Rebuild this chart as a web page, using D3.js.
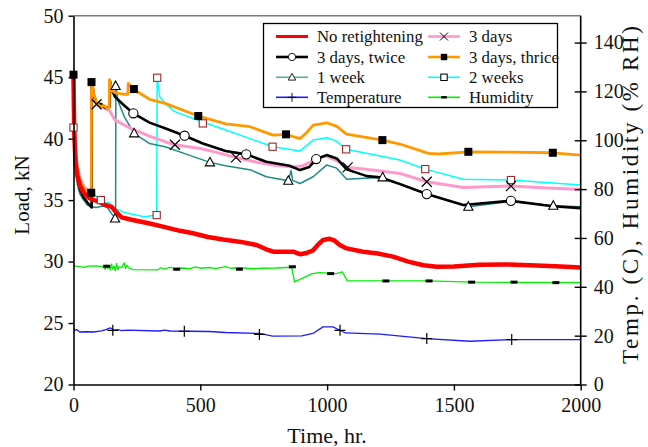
<!DOCTYPE html>
<html>
<head>
<meta charset="utf-8">
<script src="https://cdn.jsdelivr.net/npm/d3@7"></script>
<style>
  html, body { margin: 0; padding: 0; background: #fff; }
  svg { display: block; }
  text { font-family: "Liberation Serif", "Times New Roman", serif; fill: #111; }
</style>
</head>
<body>
<svg id="chart" width="648" height="447"></svg>
<script>
// ---- Load histories [time (hr), load (kN)] ----
const noRetightening = [
  [0,45.0],[3,40.5],[8,38.0],[15,37.0],[25,36.2],[40,35.6],[60,35.2],[80,35.0],[100,34.9],
  [124,34.6],[150,34.45],[165,34.1],[190,33.6],[229,33.4],[300,33.1],[361,32.8],[420,32.5],
  [471,32.3],[530,32.0],[590,31.8],[660,31.6],[722,31.35],[760,31.0],[787,30.8],[840,30.8],
  [866,30.8],[893,30.6],[920,30.7],[944,30.9],[965,31.4],[984,31.75],[1010,31.85],[1030,31.7],
  [1050,31.35],[1077,31.07],[1142,30.8],[1200,30.65],[1260,30.4],[1320,30.0],[1380,29.7],
  [1432,29.57],[1500,29.6],[1600,29.75],[1700,29.77],[1800,29.7],[1900,29.62],[2000,29.52]
];
const threeDays = [
  [0,45.0],[3,41.2],[8,39.0],[15,37.8],[25,36.8],[40,36.1],[55,35.8],[71,35.6],[72,44.8],
  [80,43.6],[91,42.8],[110,42.6],[130,42.4],[141,42.3],[164,41.5],[229,40.8],[300,40.2],
  [361,39.75],[400,39.5],[500,39.2],[560,38.9],[641,38.47],[720,38.1],[787,37.85],[866,37.7],
  [905,37.8],[935,38.1],[959,38.4],[998,38.58],[1038,38.2],[1081,37.66],[1157,37.5],[1209,37.36],
  [1287,37.17],[1393,36.49],[1537,36.03],[1725,36.14],[1850,36.0],[2000,35.87]
];
const threeDaysTwice = [
  [0,45.2],[3,40.6],[8,38.2],[15,36.9],[25,35.9],[40,35.2],[55,34.8],[71.5,34.4],[72,44.7],
  [80,43.5],[90,42.9],[110,42.8],[125,42.5],[143,42.6],[144,44.7],[150,44.0],[164,43.4],
  [200,42.7],[236,42.06],[300,41.3],[361,40.84],[438,40.24],[510,39.6],[600,39.0],[681,38.72],
  [760,38.12],[852,37.8],[893,37.44],[930,37.7],[957,38.34],[998,38.66],[1038,38.39],[1077,37.5],
  [1157,36.95],[1209,36.85],[1287,36.3],[1393,35.49],[1537,34.6],[1725,34.94],[1890,34.5],[2000,34.35]
];
const oneWeek = [
  [0,45.0],[3,40.0],[8,37.5],[15,36.3],[25,35.5],[40,35.0],[55,34.6],[72,34.45],[90,34.4],
  [110,34.5],[130,34.5],[150,33.9],[166,33.5],[167,44.4],[175,43.1],[200,41.8],[239,40.43],
  [300,39.6],[361,39.34],[450,38.7],[538,38.07],[600,37.8],[700,37.44],[760,36.9],[847,36.57],
  [858,37.4],[864,36.6],[893,36.35],[945,36.9],[998,37.85],[1038,37.6],[1077,36.69],[1219,36.85],
  [1287,36.35],[1393,35.5],[1557,34.46],[1725,34.9],[1892,34.54],[2000,34.45]
];
const threeDaysThrice = [
  [0,45.2],[3,41.5],[8,39.0],[15,37.6],[25,36.6],[40,36.0],[55,35.7],[70,35.6],[71,44.7],
  [80,43.6],[90,43.0],[105,42.6],[120,42.7],[135,42.4],[141,42.6],[142,44.8],[150,43.9],
  [170,43.7],[200,43.6],[214,43.6],[216,44.5],[238,44.0],[300,43.2],[361,42.87],[492,41.84],
  [600,41.2],[696,40.97],[787,40.29],[838,40.35],[893,40.0],[920,40.5],[945,41.1],[998,41.29],
  [1038,41.0],[1077,40.37],[1218,39.88],[1287,39.56],[1400,38.8],[1440,38.75],[1557,38.93],
  [1700,38.9],[1890,38.85],[2000,38.66]
];
const twoWeeks = [
  [0,40.9],[5,38.5],[12,37.3],[25,36.5],[45,36.0],[72,35.68],[95,35.2],[108,35.0],[124,34.73],
  [140,34.8],[164,34.32],[200,34.0],[280,33.64],[328,33.78],[330,44.95],[340,43.4],[361,42.87],
  [400,42.2],[510,41.35],[600,40.7],[696,40.0],[787,39.34],[893,38.99],[945,39.88],[998,40.07],
  [1038,39.8],[1075,39.13],[1209,38.58],[1287,38.26],[1387,37.52],[1537,36.69],[1725,36.63],[2000,36.22]
];

// ---- Ambient conditions [time (hr), value on right axis] ----
const temperature = [
  [0,22.9],[6,22.2],[12,22.5],[25,21.5],[50,21.6],[80,21.5],[110,22.0],[130,22.6],[145,23.2],
  [160,22.3],[175,22.5],[190,22.1],[210,22.3],[340,21.9],[360,22.3],[380,21.9],[536,21.7],
  [600,21.3],[734,20.9],[785,19.8],[900,19.9],[944,20.9],[984,23.6],[1023,23.6],[1051,22.2],
  [1072,21.1],[1209,20.6],[1393,18.8],[1562,17.7],[1727,18.4],[2000,18.4]
];
const humidity = [
  [0,48.6],[20,48.4],[40,48.0],[60,48.5],[90,48.6],[117,48.2],[125,47.2],[130,49.0],[135,47.5],
  [140,48.8],[145,46.8],[150,49.3],[155,47.3],[160,48.5],[165,46.5],[170,49.6],[175,47.0],
  [180,48.2],[190,47.8],[200,49.8],[205,47.5],[210,48.8],[220,47.6],[235,47.0],[330,46.9],
  [345,47.8],[360,47.2],[380,48.0],[400,47.5],[430,47.7],[460,47.4],[480,48.2],[500,47.6],
  [540,47.9],[560,47.4],[600,48.3],[620,47.6],[660,47.8],[700,47.4],[740,47.6],[800,47.7],
  [860,48.0],[872,42.0],[942,45.4],[970,45.8],[1036,45.4],[1060,46.1],[1080,42.4],[1400,42.4],
  [1570,41.9],[2000,41.7]
];

// ---- Marker positions ----
const threeDaysMarks = [[91,42.8],[400,39.5],[641,38.47],[1081,37.66],[1393,36.49],[1725,36.14]];
const twiceMarks = [[236,42.06],[438,40.24],[681,38.72],[957,38.34],[1393,35.49],[1725,34.94]];
const thriceMarks = [[0,45.2],[70,35.6],[71,44.6],[238,44.03],[492,41.84],[838,40.35],[1218,39.88],[1557,38.93],[1890,38.85]];
const twoWeeksMarks = [[0,40.9],[108,35.0],[328,33.78],[330,44.95],[510,41.24],[785,39.34],[1075,39.13],[1387,37.52],[1725,36.63]];
const oneWeekMarks = [[164,33.5],[166,44.28],[239,40.43],[538,38.07],[847,36.57],[1219,36.85],[1557,34.46],[1892,34.54]];
const temperatureMarks = [[155,22.2],[437,21.8],[733,20.5],[1051,22.2],[1393,18.8],[1728,18.4]];
const humidityMarks = [[131,48.4],[407,47.2],[654,47.2],[863,48.2],[1014,45.4],[1232,42.4],[1402,42.4],[1570,41.9],[1737,41.9],[1902,41.7]];

// ---- Axis ticks ----
const timeTicks = [0, 500, 1000, 1500, 2000];
const loadTicks = [20, 25, 30, 35, 40, 45, 50];
const rightTicks = [0, 20, 40, 60, 80, 100, 120, 140];

const svg = d3.select("#chart");
const plotLeft = 73.5, plotRight = 580.7, plotTop = 15.7, plotBottom = 384.5;

const x = d3.scaleLinear().domain([0, 2000]).range([plotLeft, plotRight]);
const yL = d3.scaleLinear().domain([20, 50]).range([plotBottom, plotTop]);
const yR = d3.scaleLinear().domain([0, 151]).range([plotBottom, plotTop]);

const colors = {
  red: "#ff0000", black: "#000000", teal: "#1f8c84", blue: "#1c1cff",
  pink: "#ff99cc", orange: "#ff9900", cyan: "#00ffff", green: "#00ee00"
};

// ---- Series lines ----
const plot = svg.append("g");
function drawLine(data, yScale, color, width) {
  plot.append("path")
    .datum(data)
    .attr("fill", "none")
    .attr("stroke", color)
    .attr("stroke-width", width)
    .attr("stroke-linejoin", "round")
    .attr("d", d3.line().x(d => x(d[0])).y(d => yScale(d[1])));
}
drawLine(twoWeeks, yL, colors.cyan, 1.5);
drawLine(oneWeek, yL, colors.teal, 1.5);
drawLine(threeDays, yL, colors.pink, 3);
drawLine(threeDaysTwice, yL, colors.black, 2.6);
drawLine(threeDaysThrice, yL, colors.orange, 2.8);
drawLine(noRetightening, yL, colors.red, 4.5);
drawLine(temperature, yR, colors.blue, 1.3);
drawLine(humidity, yR, colors.green, 1.3);

// ---- Marker shapes ----
function marker(g, type) {
  switch (type) {
    case "circle":
      g.append("circle").attr("r", 4.6).attr("fill", "#fff").attr("stroke", "#000").attr("stroke-width", 1.1);
      break;
    case "triangle":
      g.append("path").attr("d", "M0,-5L4.6,3.5L-4.6,3.5Z").attr("fill", "#fff").attr("stroke", "#000").attr("stroke-width", 1.1);
      break;
    case "x":
      g.append("path").attr("d", "M-5,-5L5,5M-5,5L5,-5").attr("stroke", "#000").attr("stroke-width", 1.2);
      break;
    case "square":
      g.append("rect").attr("x", -4).attr("y", -4).attr("width", 8).attr("height", 8).attr("fill", "#000");
      break;
    case "hollowSquare":
      g.append("rect").attr("x", -3.6).attr("y", -3.6).attr("width", 7.2).attr("height", 7.2)
        .attr("fill", "#fff").attr("stroke", "#9b2a2a").attr("stroke-width", 1.1);
      break;
    case "plus":
      g.append("path").attr("d", "M-5.5,0L5.5,0M0,-5.5L0,5.5").attr("stroke", "#000").attr("stroke-width", 1.2);
      break;
    case "dash":
      g.append("rect").attr("x", -3.5).attr("y", -1.5).attr("width", 7).attr("height", 3).attr("fill", "#000");
      break;
  }
}
function drawMarks(data, yScale, type) {
  data.forEach(d => {
    const g = plot.append("g").attr("transform", `translate(${x(d[0])},${yScale(d[1])})`);
    marker(g, type);
  });
}
drawMarks(twoWeeksMarks, yL, "hollowSquare");
drawMarks(oneWeekMarks, yL, "triangle");
drawMarks(threeDaysMarks, yL, "x");
drawMarks(twiceMarks, yL, "circle");
drawMarks(thriceMarks, yL, "square");
drawMarks(temperatureMarks, yR, "plus");
drawMarks(humidityMarks, yR, "dash");

// ---- Frame and axes ----
svg.append("line").attr("x1", plotLeft).attr("x2", plotRight).attr("y1", plotTop).attr("y2", plotTop)
  .attr("stroke", "#7a7a7a").attr("stroke-width", 1.5);

const axisStyle = g => {
  g.selectAll(".domain").attr("stroke", "#000").attr("stroke-width", 1.6);
  g.selectAll(".tick line").attr("stroke", "#000").attr("stroke-width", 1.4);
  g.selectAll(".tick text").attr("font-family", "Liberation Serif, serif").attr("font-size", 20).attr("fill", "#111");
};

svg.append("g").attr("transform", `translate(0,${plotBottom})`)
  .call(d3.axisBottom(x).tickValues(timeTicks).tickSize(6).tickSizeOuter(0).tickPadding(7).tickFormat(d3.format("d")))
  .call(axisStyle);

svg.append("g").attr("transform", `translate(${plotLeft},0)`)
  .call(d3.axisLeft(yL).tickValues(loadTicks).tickSize(5).tickSizeOuter(0).tickPadding(5).tickFormat(d3.format("d")))
  .call(axisStyle);

const rAxis = svg.append("g").attr("transform", `translate(${plotRight},0)`)
  .call(d3.axisRight(yR).tickValues(rightTicks).tickSize(6).tickSizeOuter(0).tickPadding(7).tickFormat(d3.format("d")))
  .call(axisStyle);
rAxis.selectAll(".tick line").attr("x1", -6);
rAxis.select(".domain").attr("d", `M0,${plotTop}V${plotBottom}`);

// ---- Axis titles ----
svg.append("text").attr("x", 327).attr("y", 443).attr("text-anchor", "middle")
  .attr("font-size", 22).text("Time, hr.");
svg.append("text").attr("transform", "translate(29,195) rotate(-90)").attr("text-anchor", "middle")
  .attr("font-size", 21).text("Load, kN");
svg.append("text").attr("transform", "translate(638,195) rotate(-90)").attr("text-anchor", "middle")
  .attr("font-size", 23).attr("textLength", 338).attr("lengthAdjust", "spacing")
  .text("Temp. (C),  Humidity (% RH)");

// ---- Legend ----
const legendItems = [
  { label: "No retightening", color: colors.red, width: 3, mark: null, col: 0, row: 0 },
  { label: "3 days, twice", color: colors.black, width: 2.6, mark: "circle", col: 0, row: 1 },
  { label: "1 week", color: "#5aae8e", width: 1.6, mark: "triangle", col: 0, row: 2 },
  { label: "Temperature", color: colors.blue, width: 1.6, mark: "plus", col: 0, row: 3 },
  { label: "3 days", color: colors.pink, width: 2.6, mark: "x", col: 1, row: 0 },
  { label: "3 days, thrice", color: colors.orange, width: 2.6, mark: "square", col: 1, row: 1 },
  { label: "2 weeks", color: colors.cyan, width: 1.6, mark: "legendSquare", col: 1, row: 2 },
  { label: "Humidity", color: colors.green, width: 1.6, mark: "dash", col: 1, row: 3 }
];
const legend = svg.append("g");
legend.append("rect").attr("x", 263.5).attr("y", 23.5).attr("width", 294).attr("height", 84)
  .attr("fill", "#fff").attr("stroke", "#000").attr("stroke-width", 1.3);
const colX = [276, 428], rowY = [36.5, 57, 77.3, 97.3];
legendItems.forEach(it => {
  const lx = colX[it.col], ly = rowY[it.row];
  legend.append("line").attr("x1", lx).attr("x2", lx + 32).attr("y1", ly).attr("y2", ly)
    .attr("stroke", it.color).attr("stroke-width", it.width);
  if (it.mark) {
    const g = legend.append("g").attr("transform", `translate(${lx + 16},${ly}) scale(0.8)`);
    if (it.mark === "legendSquare") {
      g.append("rect").attr("x", -4).attr("y", -4).attr("width", 8).attr("height", 8)
        .attr("fill", "#fff").attr("stroke", "#000").attr("stroke-width", 1.3);
    } else {
      marker(g, it.mark);
    }
  }
  legend.append("text").attr("x", lx + 41).attr("y", ly + 5.5).attr("font-size", 16.8).text(it.label);
});
</script>
</body>
</html>
